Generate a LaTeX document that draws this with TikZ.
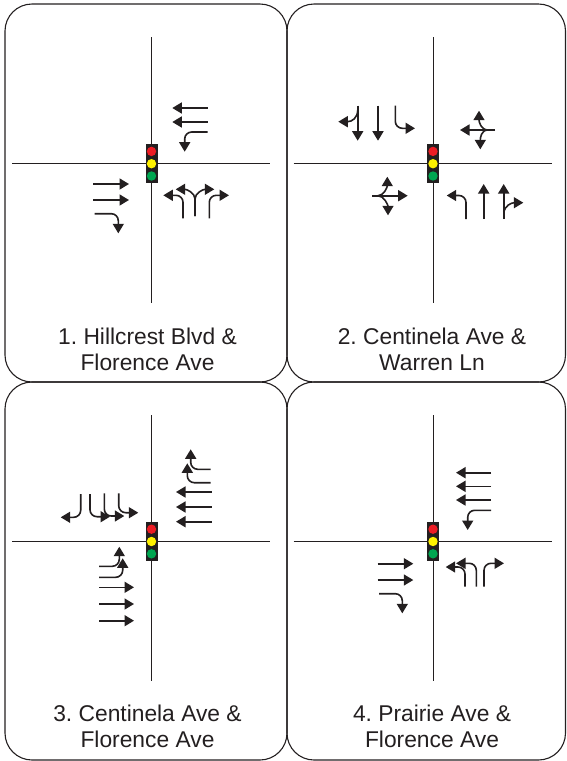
\documentclass[tikz,border=0pt]{standalone}
\usepackage{fontspec}
\setmainfont{Liberation Sans}
\usetikzlibrary{arrows.meta}
\definecolor{ink}{HTML}{231F20}
\definecolor{sigred}{HTML}{ED1C24}
\definecolor{sigyel}{HTML}{FFF200}
\definecolor{siggrn}{HTML}{00A651}
\tikzset{
  panel/.style={draw=ink,line width=1.1pt,rounded corners=27pt},
  road/.style={draw=ink,line width=1pt},
  arw/.style={draw=ink,line width=1.6pt,rounded corners=7pt,-{Triangle[length=9.5pt,width=11pt]}},
  twig/.style={draw=ink,line width=1.6pt,-{Triangle[length=9.5pt,width=11pt]}},
  housing/.style={fill=ink,draw=none},
  lamp/.style={circle,draw=none,minimum size=9.4pt,inner sep=0pt},
  caption/.style={text=ink,font=\fontsize{22.8}{26}\selectfont\frenchspacing,align=center,inner sep=0pt}
}
\newcommand{\crossing}[3]{%
  \draw[road] (#1-139.5,#2) -- (#1+118.5,#2);
  \draw[road] (#1,#2-126.5) -- (#1,#2+139.5);
  \fill[housing] (#1-6,#2-19.7) rectangle (#1+6,#2+19.5);
  \node[lamp,fill=sigred] (#3r) at (#1,#2-12.3) {};
  \node[lamp,fill=sigyel] (#3y) at (#1,#2) {};
  \node[lamp,fill=siggrn] (#3g) at (#1,#2+12.3) {};
}
\begin{document}
\begin{tikzpicture}[x=1pt,y=-1pt]
\useasboundingbox (0,0) rectangle (566,761);
% panels
\draw[panel] (5,4) rectangle (287,382);
\draw[panel] (287,4) rectangle (565.5,382);
\draw[panel] (5,382) rectangle (287,760);
\draw[panel] (287,382) rectangle (565.5,760);
% crossings
\crossing{151.5}{163.7}{a}
\crossing{433}{163.7}{b}
\crossing{151.5}{541.5}{c}
\crossing{433}{541.5}{d}
% panel 1
\draw[arw] (207.7,108) -- (172.3,108);
\draw[arw] (207.7,122) -- (172.3,122);
\draw[arw] (207.7,132) -- (184.7,132) -- (184.7,151.7);
\draw[arw] (93.3,184) -- (129,184);
\draw[arw] (93.3,200) -- (129,200);
\draw[arw] (94.7,213.7) -- (118.3,213.7) -- (118.3,233.3);
\draw[arw] (183,218.3) -- (183,195.3) -- (163.3,195.3);
\draw[twig] (195,216) -- (195,199) .. controls (195,193) and (187,189.3) .. (175.7,189.3);
\draw[twig] (195,216) -- (195,199) .. controls (195,193) and (203,189.3) .. (214.3,189.3);
\draw[arw] (209.3,218.3) -- (209.3,195.3) -- (229,195.3);
% panel 2
\draw[twig] (357.7,105.7) -- (357.7,140.7);
\draw[twig] (357.7,110) .. controls (357.7,118) and (352,121.7) .. (338.3,121.7);
\draw[twig] (378,105.7) -- (378,140.7);
\draw[arw] (395.3,105.7) -- (395.3,128.3) -- (415,128.3);
\draw[twig] (495,130) -- (460,130);
\draw[twig] (488,130) .. controls (481,130) and (479,122) .. (479,110.7);
\draw[twig] (488,130) .. controls (481,130) and (480.3,138) .. (480.3,149.3);
\draw[twig] (372.3,195.7) -- (407.7,195.7);
\draw[twig] (378,195.7) .. controls (384,195.7) and (387.3,187) .. (387.3,176.7);
\draw[twig] (378,195.7) .. controls (384,195.7) and (388,205) .. (388,215.3);
\draw[arw] (466,219) -- (466,195.5) -- (446.7,195.5);
\draw[twig] (483.7,219) -- (483.7,184);
\draw[twig] (503.7,219) -- (503.7,184);
\draw[twig] (503.7,212) .. controls (505,206) and (511,202.7) .. (523.3,202.7);
% panel 3
\draw[arw] (210.7,469.3) -- (190.7,469.3) -- (190.7,449.3);
\draw[arw] (210.7,482.7) -- (187.3,482.7) -- (187.3,463.3);
\draw[arw] (211.7,492) -- (176,492);
\draw[arw] (211.7,507) -- (176,507);
\draw[arw] (211.7,521.7) -- (176,521.7);
\draw[arw] (80.7,494) -- (80.7,517.3) -- (60.7,517.3);
\draw[arw] (90,494) -- (90,516.7) -- (110,516.7);
\draw[arw] (104.3,493.3) -- (104.3,516) -- (124.3,516);
\draw[arw] (118.7,493.3) -- (118.7,512.7) -- (138.3,512.7);
\draw[arw] (99,566.3) -- (119.3,566.3) -- (119.3,546.7);
\draw[arw] (99,577.3) -- (122.7,577.3) -- (122.7,558.3);
\draw[arw] (99,587.3) -- (134,587.3);
\draw[arw] (99,604) -- (134,604);
\draw[arw] (99,620.7) -- (134,620.7);
% panel 4
\draw[arw] (491,472.7) -- (456,472.7);
\draw[arw] (491,486.3) -- (456,486.3);
\draw[arw] (491,500) -- (456,500);
\draw[arw] (491,510.3) -- (467.7,510.3) -- (467.7,530);
\draw[arw] (377.7,563.7) -- (413.3,563.7);
\draw[arw] (377.7,580) -- (413.3,580);
\draw[arw] (379,593.7) -- (402.3,593.7) -- (402.3,613.3);
\draw[arw] (465,586.7) -- (465,567) -- (445.7,567);
\draw[arw] (476.3,586.7) -- (476.3,563.3) -- (456,563.3);
\draw[arw] (484,586.7) -- (484,563.3) -- (504,563.3);
% captions
\node[caption] (t1) at (147.5,349) {1. Hillcrest Blvd \&\\Florence Ave};
\node[caption] (t2) at (432,349) {2. Centinela Ave \&\\Warren Ln};
\node[caption] (t3) at (147.5,726) {3. Centinela Ave \&\\Florence Ave};
\node[caption] (t4) at (432,726) {4. Prairie Ave \&\\Florence Ave};
\end{tikzpicture}
\end{document}
